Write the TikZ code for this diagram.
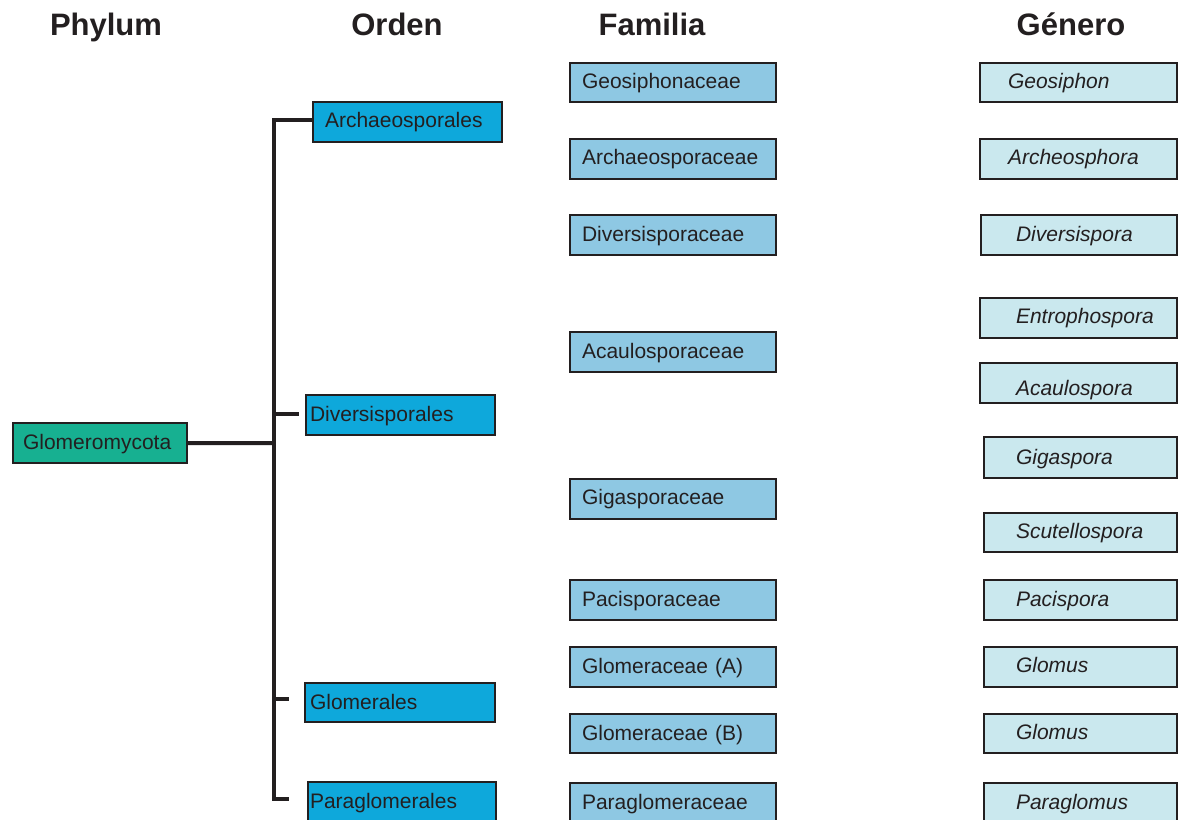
\documentclass[tikz,border=0pt]{standalone}
\usepackage{fontspec}
\setmainfont{Liberation Sans}
\definecolor{edge}{HTML}{231F20}
\definecolor{phycol}{HTML}{17B091}
\definecolor{ordcol}{HTML}{0EA8DB}
\definecolor{famcol}{HTML}{8EC8E3}
\definecolor{gencol}{HTML}{CAE8EE}
\newcommand\boxfont{\fontsize{21bp}{24bp}\selectfont}
\newcommand\headfont{\bfseries\fontsize{31bp}{36bp}\selectfont}
\newcommand\lpad[1]{\noindent\hspace*{#1bp}}
\begin{document}
\begin{tikzpicture}[x=1bp,y=-1bp,
  bx/.style 2 args={draw=edge, line width=2.5bp, rectangle, anchor=north west,
    text width=#1bp, minimum height=#2bp, inner xsep=0pt, inner ysep=0pt,
    outer sep=0pt, align=left, text height=16bp, text depth=3bp, text=edge,
    font=\boxfont},
  phy/.style={fill=phycol},
  ord/.style={fill=ordcol},
  fam/.style={fill=famcol},
  gen/.style={fill=gencol, font=\boxfont\itshape},
  low/.style={text height=24bp, text depth=0pt},
  high/.style={text height=16bp, text depth=5bp},
  head/.style={anchor=base, text=edge, font=\headfont, inner sep=0pt},
  tree/.style={draw=edge, line width=4bp, line join=miter}]
\useasboundingbox (0,0) rectangle (1178,820);
\clip (0,0) rectangle (1178,820);

% headers
\node[head] (hP) at (106,36) {Phylum};
\node[head] (hO) at (397,36) {Orden};
\node[head] (hF) at (652,36) {Familia};
\node[head] (hG) at (1071,36) {Género};

% phylum
\node[bx={174}{40}, phy] (phy) at (13,423) {\lpad{10}Glomeromycota};

% orders
\node[bx={189}{40}, ord, high] (ordA) at (313,102) {\lpad{12}Archaeosporales};
\node[bx={189}{40}, ord] (ordD) at (306,395) {\lpad{4}Diversisporales};
\node[bx={190}{39}, ord] (ordG) at (305,683) {\lpad{5}Glomerales};
\node[bx={188}{40}, ord] (ordP) at (308,782) {\lpad{2}Paraglomerales};

% families
\node[bx={206}{39}, fam] (f1) at (570,63) {\lpad{12}Geosiphonaceae};
\node[bx={206}{40}, fam, high] (f2) at (570,139) {\lpad{12}Archaeosporaceae};
\node[bx={206}{40}, fam] (f3) at (570,215) {\lpad{12}Diversisporaceae};
\node[bx={206}{40}, fam] (f4) at (570,332) {\lpad{12}Acaulosporaceae};
\node[bx={206}{40}, fam, high] (f5) at (570,479) {\lpad{12}Gigasporaceae};
\node[bx={206}{40}, fam] (f6) at (570,580) {\lpad{12}Pacisporaceae};
\node[bx={206}{40}, fam] (f7) at (570,647) {\lpad{12}Glomeraceae (A)};
\node[bx={206}{39}, fam] (f8) at (570,714) {\lpad{12}Glomeraceae (B)};
\node[bx={206}{40}, fam] (f9) at (570,783) {\lpad{12}Paraglomeraceae};

% genera
\node[bx={197}{39}, gen] (g1) at (980,63) {\lpad{28}Geosiphon};
\node[bx={197}{40}, gen, high] (g2) at (980,139) {\lpad{28}Archeosphora};
\node[bx={196}{40}, gen] (g3) at (981,215) {\lpad{35}Diversispora};
\node[bx={197}{40}, gen, high] (g4) at (980,298) {\lpad{36}Entrophospora};
\node[bx={197}{40}, gen, low] (g5) at (980,363) {\lpad{36}Acaulospora};
\node[bx={193}{41}, gen] (g6) at (984,437) {\lpad{32}Gigaspora};
\node[bx={193}{39}, gen, high] (g7) at (984,513) {\lpad{32}Scutellospora};
\node[bx={193}{40}, gen] (g8) at (984,580) {\lpad{32}Pacispora};
\node[bx={193}{40}, gen, high] (g9) at (984,647) {\lpad{32}Glomus};
\node[bx={193}{39}, gen, high] (g10) at (984,714) {\lpad{32}Glomus};
\node[bx={193}{40}, gen] (g11) at (984,783) {\lpad{32}Paraglomus};

% tree connectors
\coordinate (tTop) at (274,120);
\coordinate (tBot) at (274,799);
\coordinate (tPhy) at (274,443);
\coordinate (tD) at (274,414);
\coordinate (eD) at (299,414);
\coordinate (tG) at (274,699);
\coordinate (eG) at (289,699);
\coordinate (eP) at (289,799);
\draw[tree] (ordA.west |- tTop) -- (tTop) -- (tBot) -- (eP);
\draw[tree] (phy.east) -- (tPhy);
\draw[tree] (tD) -- (eD);
\draw[tree] (tG) -- (eG);
\end{tikzpicture}
\end{document}
